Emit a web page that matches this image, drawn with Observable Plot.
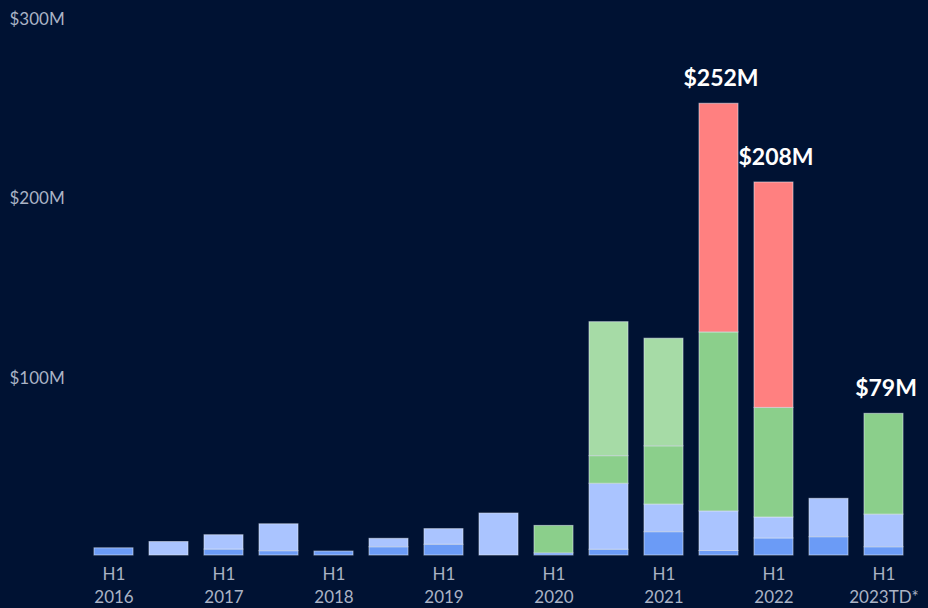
<!DOCTYPE html>
<html>
<head>
<meta charset="utf-8">
<script src="https://cdn.jsdelivr.net/npm/d3@7"></script>
<script src="https://cdn.jsdelivr.net/npm/@observablehq/plot@0.6"></script>
<style>
  html, body { margin: 0; padding: 0; background: #001233; }
  #chart { width: 928px; height: 608px; overflow: hidden; }
</style>
</head>
<body>
<div id="chart"></div>
<script>
const periods = ["2016 H1","2016 H2","2017 H1","2017 H2","2018 H1","2018 H2","2019 H1","2019 H2","2020 H1","2020 H2","2021 H1","2021 H2","2022 H1","2022 H2","2023 H1"];
const tickLabels = ["H1\n2016","","H1\n2017","","H1\n2018","","H1\n2019","","H1\n2020","","H1\n2021","","H1\n2022","","H1\n2023TD*"];

const seriesNames = ["Segment 1","Segment 2","Segment 3","Segment 4","Segment 5"];
const seriesColors = ["#6b9bf6","#aac4ff","#8bcf8b","#a6dba6","#ff8080"];

const segment1 = [4, 0, 3.3, 2.4, 2.2, 4.6, 6, 0, 1.2, 3.2, 13, 2.5, 9.5, 10.2, 4.6];
const segment2 = [0, 7.5, 8, 15, 0, 4.7, 8.7, 23.4, 0, 36.8, 15.4, 22.1, 11.7, 21.4, 18.2];
const segment3 = [0, 0, 0, 0, 0, 0, 0, 0, 15.3, 15.4, 32.5, 99.8, 61.1, 0, 56.2];
const segment4 = [0, 0, 0, 0, 0, 0, 0, 0, 0, 74.7, 60, 0, 0, 0, 0];
const segment5 = [0, 0, 0, 0, 0, 0, 0, 0, 0, 0, 0, 127.5, 125.7, 0, 0];

const totalLabelPeriods = ["2021 H2","2022 H1","2023 H1"];
const totalLabelValues = [252, 208, 79];

const yTicks = [100, 200, 300];

const seriesValues = [segment1, segment2, segment3, segment4, segment5];
const rows = [];
seriesValues.forEach((vals, si) => {
  vals.forEach((v, pi) => {
    if (v > 0) rows.push({period: periods[pi], series: seriesNames[si], value: v});
  });
});
const labelRows = totalLabelPeriods.map((p, i) => ({period: p, value: totalLabelValues[i]}));
const tickMap = new Map(periods.map((p, i) => [p, tickLabels[i]]));

const fontFamily = "Lato, 'Noto Sans', sans-serif";
const axisColor = "#aab3c5";

const chart = Plot.plot({
  width: 928,
  height: 608,
  marginTop: 17,
  marginBottom: 53,
  marginLeft: 76,
  marginRight: 6,
  style: {background: "#001233", fontFamily, overflow: "visible"},
  x: {domain: periods, padding: 0.29, label: null},
  y: {domain: [0, 300], label: null},
  color: {domain: seriesNames, range: seriesColors},
  marks: [
    Plot.barY(rows, Plot.stackY({
      x: "period", y: "value", fill: "series", order: seriesNames,
      stroke: "#e6ecf8", strokeOpacity: 0.55, strokeWidth: 1
    })),
    Plot.axisY({
      ticks: yTicks, tickSize: 0, tickPadding: 0, textAnchor: "start", dx: -67, dy: 2,
      tickFormat: d => `$${d}M`, fontSize: 17, fill: axisColor, label: null
    }),
    Plot.axisX({
      tickSize: 0, tickPadding: 8, tickFormat: d => tickMap.get(d),
      fontSize: 17, fill: axisColor, lineHeight: 1.35, label: null
    }),
    Plot.text(labelRows, {
      x: "period", y: "value", text: d => `$${d.value}M`,
      dy: -25, dx: 2, fontSize: 23, fontWeight: "bold", fill: "white"
    })
  ]
});
document.getElementById("chart").appendChild(chart);
</script>
</body>
</html>
